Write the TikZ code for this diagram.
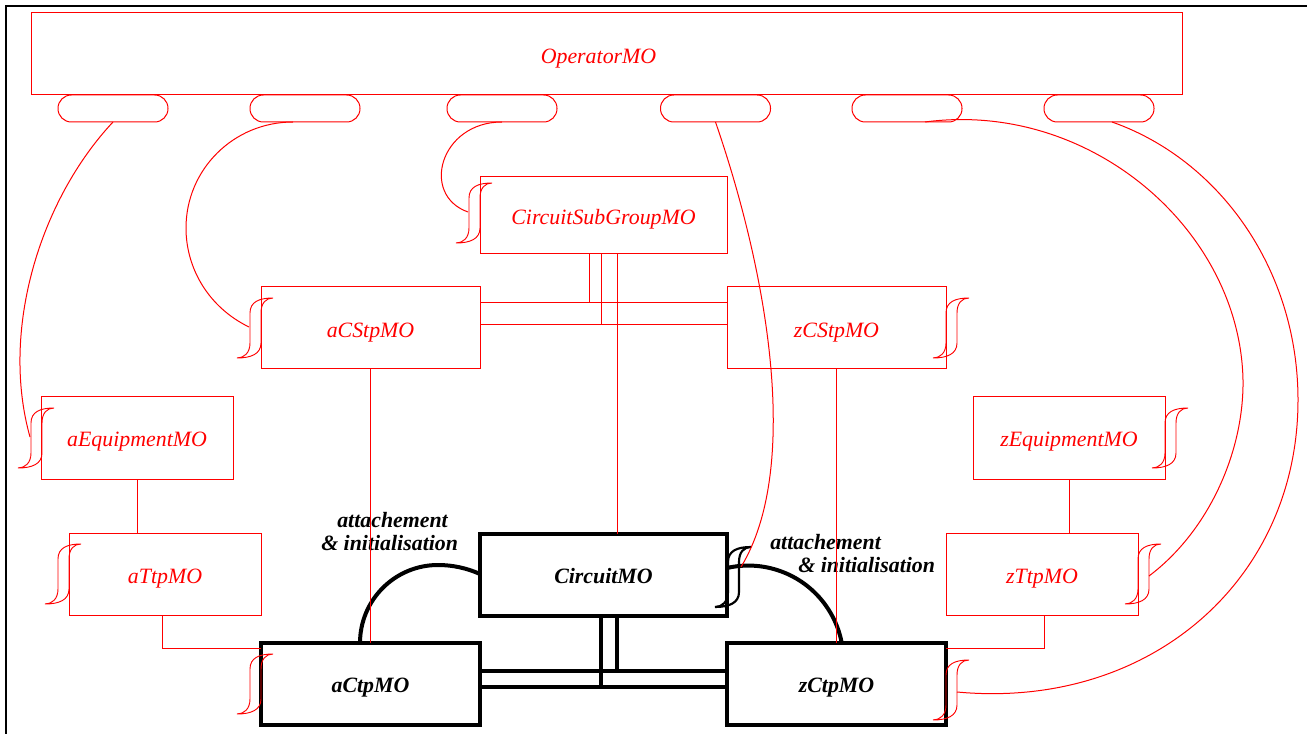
\documentclass[tikz,border=0pt]{standalone}
\usepackage{fontspec}
\setmainfont{Liberation Serif}
\usetikzlibrary{calc}
\definecolor{mored}{RGB}{255,0,0}
\tikzset{
  integ/.pic={
    \draw (0,0) .. controls (7,0) and (13,-5) .. (13,-15) -- (13,-45)
      .. controls (13,-56) and (22,-60) .. (36,-60)
      .. controls (29,-60) and (24,-55) .. (24,-45) -- (24,-15)
      .. controls (24,-4) and (14,0) .. cycle;
    \coordinate (-l) at (12,-31);
    \coordinate (-r) at (24,-28);
    \coordinate (-t) at (26,-40);
  }
}
\begin{document}
\begin{tikzpicture}[x=0.75pt,y=-0.75pt,
  redbox/.style 2 args={draw=mored, line width=0.75pt, inner sep=0pt, outer sep=0pt,
    minimum width=#1*0.75pt, minimum height=#2*0.75pt, text=mored,
    text height=14pt, text depth=0pt,
    font=\fontsize{16.4}{18}\selectfont\itshape},
  blkbox/.style 2 args={draw=black, line width=3pt, inner sep=0pt, outer sep=0pt,
    minimum width=#1*0.75pt, minimum height=#2*0.75pt, text=black,
    text height=12pt, text depth=0pt,
    font=\fontsize{16.4}{18}\selectfont\bfseries\itshape},
  port/.style={draw=mored, line width=0.75pt, rounded corners=10pt, inner sep=0pt, outer sep=0pt,
    minimum width=82.5pt, minimum height=20.25pt},
  redline/.style={draw=mored, line width=0.75pt},
  thickline/.style={draw=black, line width=3pt},
  lbl/.style={inner sep=0pt, font=\fontsize{16.4}{18}\selectfont\bfseries\itshape, anchor=base west},
  redinteg/.style={mored, line width=0.7pt},
  blkinteg/.style={black, line width=1.6pt}
]
\useasboundingbox (0,0) rectangle (1307,734);
\draw[line width=1.9pt] (6,734) -- (6,6) -- (1307,6);

% top
\node[redbox={1151}{82}] (op) at (606.5,54) {\hspace*{-12pt}OperatorMO};
\node[port] (p1) at (113,108.5) {};
\node[port] (p2) at (305,108.5) {};
\node[port] (p3) at (502,108.5) {};
\node[port] (p4) at (715.5,108.5) {};
\node[port] (p5) at (907,108.5) {};
\node[port] (p6) at (1099,108.5) {};

% red boxes
\node[redbox={247}{77}] (csg) at (603.5,215.5) {CircuitSubGroupMO};
\node[redbox={219}{82}] (acs) at (370.5,328) {aCStpMO};
\node[redbox={219}{82}] (zcs) at (836.5,328) {zCStpMO};
\node[redbox={192}{83}] (aeq) at (137,437.5) {aEquipmentMO};
\node[redbox={192}{82}] (atp) at (165,574) {aTtpMO};
\node[redbox={192}{83}] (zeq) at (1069,437.5) {zEquipmentMO};
\node[redbox={192}{82}] (ztp) at (1042,574) {zTtpMO};

% black boxes
\node[blkbox={247}{82}] (cm) at (603.5,575) {CircuitMO};
\node[blkbox={219}{82}] (act) at (370.5,684) {aCtpMO};
\node[blkbox={219}{82}] (zct) at (836.5,684) {zCtpMO};

% black connections
\draw[thickline] (act.east |- 0,671) -- (zct.west |- 0,671);
\draw[thickline] (act.east |- 0,687) -- (zct.west |- 0,687);
\draw[thickline] (cm.south -| 617,0) |- (zct.west |- 0,671);
\draw[thickline] (cm.south -| 601,0) |- (zct.west |- 0,687);
\draw[thickline] (act.north -| 360,0) arc[start angle=180, end angle=270, radius=78]
  arc[start angle=270, end angle=294.2, radius=102.5];
\draw[thickline] (cm.east |- 0,568) arc[start angle=-103, end angle=-11.5, radius=95];
\pic[blkinteg] (icm) at ($(cm.north east)+(-12,73)$) {integ};

% labels
\node[lbl] (l1a) at (337,527) {attachement};
\node[lbl] (l1b) at (321,550) {\& initialisation};
\node[lbl] (l2a) at (770,549) {attachement};
\node[lbl] (l2b) at (798,572) {\& initialisation};

% red integrals
\pic[redinteg] (icsg) at ($(csg.north west)+(-24,66)$) {integ};
\pic[redinteg] (iacs) at ($(acs.north west)+(-24,71)$) {integ};
\pic[redinteg] (iaeq) at ($(aeq.north west)+(-23,72)$) {integ};
\pic[redinteg] (iatp) at ($(atp.north west)+(-24,71)$) {integ};
\pic[redinteg] (iact) at ($(act.north west)+(-24,71)$) {integ};
\pic[redinteg] (izcs) at ($(zcs.north east)+(-13,71)$) {integ};
\pic[redinteg] (izeq) at ($(zeq.north east)+(-13,72)$) {integ};
\pic[redinteg] (iztp) at ($(ztp.north east)+(-13,71)$) {integ};
\pic[redinteg] (izct) at ($(zct.north east)+(-13,77)$) {integ};

% red straight connections
\draw[redline] (aeq.south) -- (aeq.south |- atp.north);
\draw[redline] (zeq.south) -- (zeq.south |- ztp.north);
\draw[redline] (atp.south -| 162,0) |- (act.west |- 0,648);
\draw[redline] (ztp.south -| 1044,0) |- (zct.east |- 0,648);
\draw[redline] (acs.south) -- (acs.south |- act.north);
\draw[redline] (zcs.south) -- (zcs.south |- zct.north);
\draw[redline] (acs.east |- 0,303) -- (zcs.west |- 0,303);
\draw[redline] (acs.east |- 0,325) -- (zcs.west |- 0,325);
\draw[redline] (csg.south -| 589,0) |- (zcs.west |- 0,303);
\draw[redline] (csg.south -| 601,0) |- (zcs.west |- 0,325);
\draw[redline] (csg.south -| 617,0) -- (cm.north -| 617,0);

% red curves from ports
\draw[redline] (p1.south) .. controls (40,200) and (0,330) .. (iaeq-l);
\draw[redline] ($(p2.south)+(-12,0)$) .. controls (233.5,122) and (186,169.5) .. (186,228)
  .. controls (186,268.5) and (208.6,307.3) .. (iacs-l);
\draw[redline] (p3.south) .. controls (440,122) and (420,195) .. (icsg-l);
\draw[redline] (p4.south) .. controls (770,280) and (800,470) .. (icm-t);
\draw[redline] ($(p5.south)+(18,0)$) .. controls (1090,100) and (1240,230) .. (1243,380)
  .. controls (1244,450) and (1210,530) .. (iztp-r);
\draw[redline] ($(p6.south)+(13,0)$) .. controls (1220,160) and (1298,270) .. (1298,400)
  .. controls (1298,580) and (1150,710) .. (izct-r);
\end{tikzpicture}
\end{document}
